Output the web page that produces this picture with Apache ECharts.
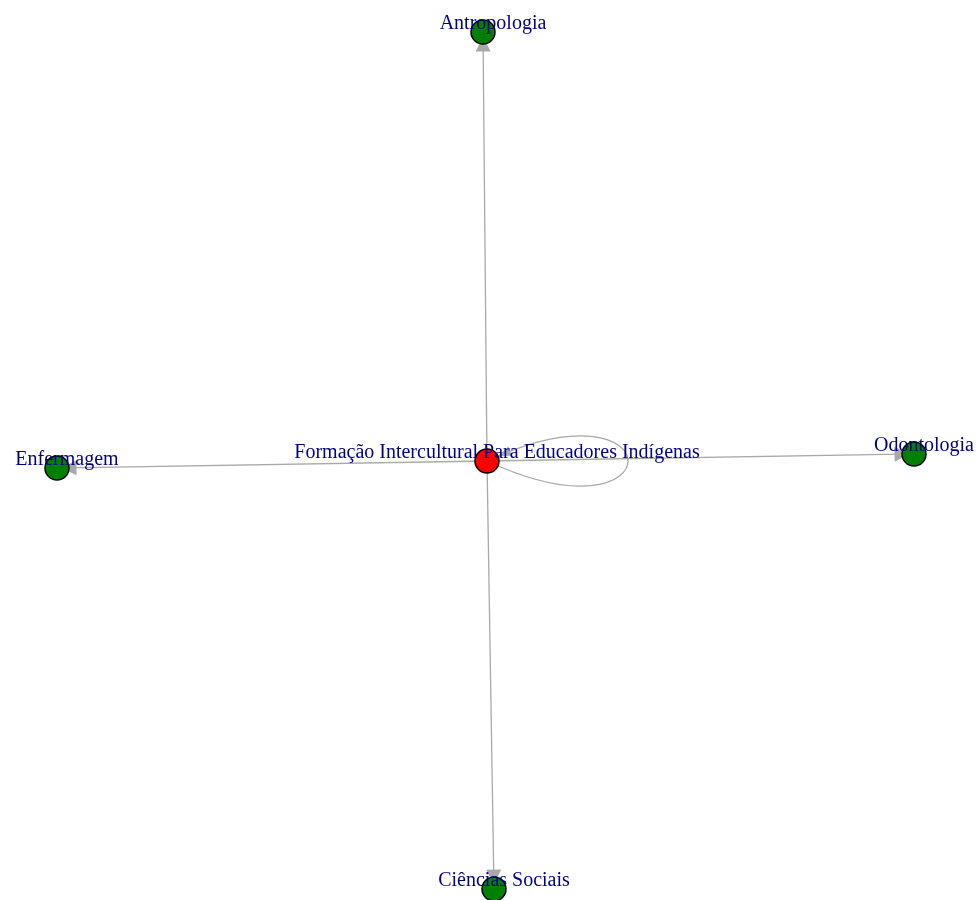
<!DOCTYPE html>
<html>
<head>
<meta charset="utf-8">
<script src="https://cdn.jsdelivr.net/npm/echarts@6/dist/echarts.min.js"></script>
<style>html,body{margin:0;padding:0;background:#fff}#chart{width:980px;height:900px}</style>
</head>
<body>
<div id="chart"></div>
<script>
// Node names, layout coordinates and group
const nodeNames = ['Formação Intercultural Para Educadores Indígenas', 'Antropologia', 'Enfermagem', 'Odontologia', 'Ciências Sociais'];
const nodeX = [487, 483, 57, 914, 494];
const nodeY = [461, 32, 468, 454, 889];
const nodeGroup = ['origin', 'dest', 'dest', 'dest', 'dest'];
// Edges (source -> target)
const edgeSource = ['Formação Intercultural Para Educadores Indígenas', 'Formação Intercultural Para Educadores Indígenas', 'Formação Intercultural Para Educadores Indígenas', 'Formação Intercultural Para Educadores Indígenas', 'Formação Intercultural Para Educadores Indígenas'];
const edgeTarget = ['Antropologia', 'Enfermagem', 'Odontologia', 'Ciências Sociais', 'Formação Intercultural Para Educadores Indígenas'];

const groupColor = { origin: '#FF0000', dest: '#008000' };
const EDGE = '#A9A9A9';
const LABEL = '#00008B';
const NODE_R = 12;

const nodes = nodeNames.map((n, i) => ({
  name: n,
  value: [nodeX[i], nodeY[i]],
  itemStyle: { color: groupColor[nodeGroup[i]] }
}));
const links = [];
const loops = [];
edgeSource.forEach((s, i) => {
  const t = edgeTarget[i];
  if (s === t) {
    const k = nodeNames.indexOf(s);
    loops.push([nodeX[k], nodeY[k]]);
  } else {
    links.push({ source: s, target: t });
  }
});

const chart = echarts.init(document.getElementById('chart'), null, { renderer: 'canvas' });

function bez(p0, p1, p2, p3, t) {
  const u = 1 - t;
  return [
    u*u*u*p0[0] + 3*u*u*t*p1[0] + 3*u*t*t*p2[0] + t*t*t*p3[0],
    u*u*u*p0[1] + 3*u*u*t*p1[1] + 3*u*t*t*p2[1] + t*t*t*p3[1]
  ];
}

chart.setOption({
  animation: false,
  backgroundColor: '#fff',
  grid: { left: 0, right: 0, top: 0, bottom: 0 },
  xAxis: { type: 'value', min: 0, max: 980, show: false },
  yAxis: { type: 'value', min: 0, max: 900, inverse: true, show: false },
  series: [
    {
      type: 'custom',
      coordinateSystem: 'cartesian2d',
      z: 1,
      silent: true,
      data: loops,
      renderItem: function (params, api) {
        const c = api.coord([api.value(0), api.value(1)]);
        const a = 188, b = 87;
        const p0 = c, p1 = [c[0] + a, c[1] + b], p2 = [c[0] + a, c[1] - b], p3 = c;
        let tTip = 1;
        for (let t = 1; t > 0.5; t -= 0.001) {
          const p = bez(p0, p1, p2, p3, t);
          if (Math.hypot(p[0] - c[0], p[1] - c[1]) >= NODE_R) { tTip = t; break; }
        }
        const tip = bez(p0, p1, p2, p3, tTip);
        let tBase = tTip;
        for (let t = tTip; t > 0.3; t -= 0.001) {
          const p = bez(p0, p1, p2, p3, t);
          if (Math.hypot(p[0] - tip[0], p[1] - tip[1]) >= 13) { tBase = t; break; }
        }
        const base = bez(p0, p1, p2, p3, tBase);
        const dx = tip[0] - base[0], dy = tip[1] - base[1];
        const L = Math.hypot(dx, dy);
        const nx = -dy / L, ny = dx / L, hw = 5;
        return {
          type: 'group',
          children: [
            {
              type: 'bezierCurve',
              shape: { x1: p0[0], y1: p0[1], cpx1: p1[0], cpy1: p1[1], cpx2: p2[0], cpy2: p2[1], x2: p3[0], y2: p3[1] },
              style: { stroke: EDGE, fill: null, lineWidth: 1.3 }
            },
            {
              type: 'polygon',
              shape: { points: [tip, [base[0] + nx * hw, base[1] + ny * hw], [base[0] - nx * hw, base[1] - ny * hw]] },
              style: { fill: EDGE }
            }
          ]
        };
      }
    },
    {
      type: 'graph',
      coordinateSystem: 'cartesian2d',
      layout: 'none',
      z: 2,
      symbol: 'circle',
      symbolSize: NODE_R * 2,
      edgeSymbol: ['none', 'triangle'],
      edgeSymbolSize: [4, 15],
      itemStyle: { borderColor: '#000', borderWidth: 1.5 },
      lineStyle: { color: EDGE, width: 1.3, opacity: 1, curveness: 0 },
      label: {
        show: true,
        position: 'inside',
        offset: [10, -8],
        color: LABEL,
        fontFamily: '"Liberation Serif", "Times New Roman", serif',
        fontSize: 20,
        formatter: '{b}'
      },
      emphasis: { disabled: true },
      data: nodes,
      links: links
    }
  ]
});
</script>
</body>
</html>
